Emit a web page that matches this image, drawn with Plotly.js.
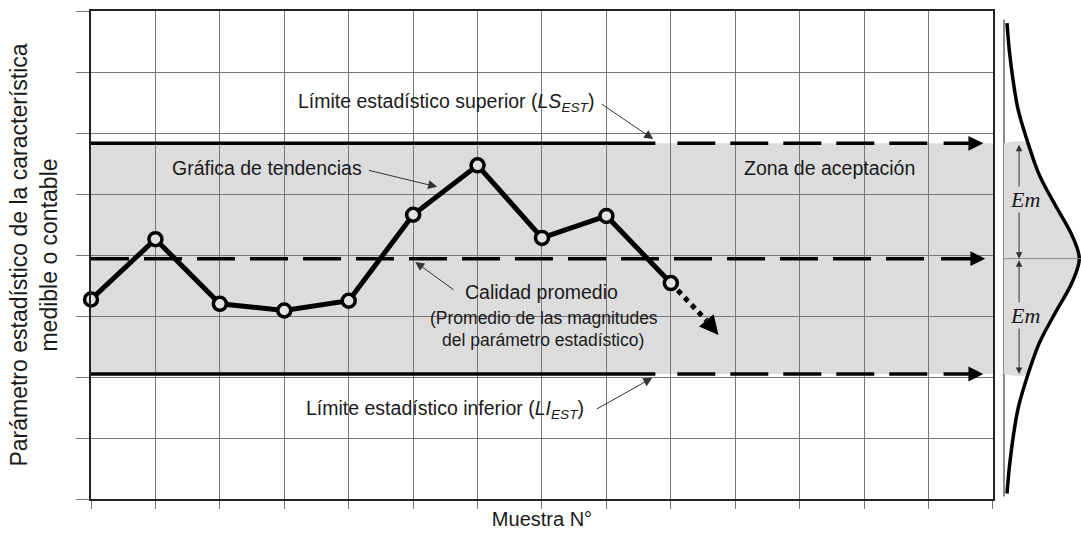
<!DOCTYPE html>
<html>
<head>
<meta charset="utf-8">
<script src="https://cdn.plot.ly/plotly-3.0.1.min.js"></script>
<style>html,body{margin:0;padding:0;background:#fff;}#chart{width:1081px;height:542px;}</style>
</head>
<body>
<div id="chart"></div>
<script>
// ---- data ----
const sampleIdx = [0, 1, 2, 3, 4, 5, 6, 7, 8, 9];
const sampleValues = [3.27, 4.26, 3.20, 3.09, 3.25, 4.66, 5.47, 4.28, 4.64, 3.54];
const projectionX = [9, 9.55];
const projectionY = [3.54, 2.93];
const projectionTip = [9.74, 2.69];

const upperLimit = 5.83;   // LS_EST
const meanLevel = 3.94;    // calidad promedio
const lowerLimit = 2.05;   // LI_EST
const solidEnd = 8.76;     // where LS / LI turn dashed
const dashStart = 9.10;
const dashEnd = 13.05;
const meanDashEnd = 13.0;
const arrowTailLimits = 13.21;
const arrowTailMean = 13.17;
const arrowTip = 13.85;
const arrowTipMean = 13.88;

const curveY = [7.80, 7.36, 6.87, 6.37, 5.83, 5.31, 4.82, 4.33, 3.94, 3.54, 3.05, 2.56, 2.05, 1.50, 1.00, 0.51, 0.09];
const curveDensity = [0.04, 0.07, 0.12, 0.19, 0.32, 0.47, 0.68, 0.90, 1.00, 0.90, 0.68, 0.47, 0.32, 0.19, 0.12, 0.07, 0.04];
const emArrowX = 0.2;
const emLabelX = 0.28;

const TXT = '#1a1a1a';
const GRID = '#777777';
const BAND = '#dcdcdc';

// band under curve (between limits)
const bandX = [0], bandY = [upperLimit];
curveY.forEach((y, i) => { if (y <= upperLimit && y >= lowerLimit) { bandX.push(curveDensity[i]); bandY.push(y); } });
bandX.push(0); bandY.push(lowerLimit);

const blackLine = (w, dash) => ({color: '#000', width: w, dash: dash || 'solid'});

const traces = [
  {x: [0, solidEnd], y: [upperLimit, upperLimit], mode: 'lines', line: blackLine(3.5), hoverinfo: 'skip'},
  {x: [dashStart, dashEnd], y: [upperLimit, upperLimit], mode: 'lines', line: blackLine(3.5, '38px,15px'), hoverinfo: 'skip'},
  {x: [0, solidEnd], y: [lowerLimit, lowerLimit], mode: 'lines', line: blackLine(3.5), hoverinfo: 'skip'},
  {x: [dashStart, dashEnd], y: [lowerLimit, lowerLimit], mode: 'lines', line: blackLine(3.5, '38px,15px'), hoverinfo: 'skip'},
  {x: [0, meanDashEnd], y: [meanLevel, meanLevel], mode: 'lines', line: blackLine(3.5, '38px,15px'), hoverinfo: 'skip'},
  {x: projectionX, y: projectionY, mode: 'lines', line: blackLine(5, 'dot'), hoverinfo: 'skip'},
  {x: sampleIdx, y: sampleValues, mode: 'lines+markers', cliponaxis: false,
   line: {color: '#000', width: 5},
   marker: {symbol: 'circle', size: 13, color: '#e2e2e2', line: {color: '#000', width: 3.5}}},
  {x: bandX, y: bandY, xaxis: 'x2', yaxis: 'y2', mode: 'lines', fill: 'toself', fillcolor: BAND,
   line: {width: 0, shape: 'spline'}, hoverinfo: 'skip'},
  {x: curveDensity, y: curveY, xaxis: 'x2', yaxis: 'y2', mode: 'lines', cliponaxis: false,
   line: {color: '#000', width: 3.5, shape: 'spline'}, hoverinfo: 'skip'}
];

const ann = [];
function label(text, x, y, size, extra) {
  ann.push(Object.assign({text: text, x: x, y: y, xref: 'x', yref: 'y', showarrow: false,
    font: {size: size, color: TXT, family: 'Liberation Sans, Arial, sans-serif'}}, extra || {}));
}
function pointer(ax, ay, x, y) {
  ann.push({text: '', x: x, y: y, ax: ax, ay: ay, xref: 'x', yref: 'y', axref: 'x', ayref: 'y',
    showarrow: true, arrowhead: 2, arrowsize: 1.8, arrowwidth: 1, arrowcolor: '#333', standoff: 0});
}
function bigHead(ax, ay, x, y, w, s) {
  ann.push({text: '', x: x, y: y, ax: ax, ay: ay, xref: 'x', yref: 'y', axref: 'x', ayref: 'y',
    showarrow: true, arrowhead: 2, arrowsize: s, arrowwidth: w, arrowcolor: '#000', standoff: 0});
}

label('Límite estadístico superior (<i>LS</i><sub><i>EST</i></sub>)', 5.515, 6.50, 19.5);
label('Gráfica de tendencias', 2.736, 5.425, 19.5);
label('Zona de aceptación', 11.459, 5.425, 19.5);
label('Calidad promedio', 6.997, 3.397, 19.5);
label('(Promedio de las magnitudes', 7.035, 2.97, 17.5);
label('del parámetro estadístico)', 7.012, 2.608, 17.5);
label('Límite estadístico inferior (<i>LI</i><sub><i>EST</i></sub>)', 5.5, 1.462, 19.5);

pointer(7.905, 6.489, 8.727, 5.90);
pointer(4.289, 5.394, 5.373, 5.117);
pointer(5.654, 3.411, 5.033, 3.886);
pointer(7.827, 1.462, 8.712, 1.986);

bigHead(arrowTailLimits, upperLimit, arrowTip, upperLimit, 3.5, 0.85);
bigHead(arrowTailMean, meanLevel, arrowTipMean, meanLevel, 3.5, 0.85);
bigHead(arrowTailLimits, lowerLimit, arrowTip, lowerLimit, 3.5, 0.85);
bigHead(projectionX[1], projectionY[1], projectionTip[0], projectionTip[1], 4, 0.95);

// Em arrows on the distribution side
[[upperLimit, meanLevel], [meanLevel, lowerLimit]].forEach(([a, b]) => {
  ann.push({text: '', x: emArrowX, y: b, ax: emArrowX, ay: a, xref: 'x2', yref: 'y2', axref: 'x2', ayref: 'y2',
    showarrow: true, arrowhead: 2, startarrowhead: 2, arrowside: 'end+start', arrowsize: 1.3, startarrowsize: 1.3,
    arrowwidth: 1, arrowcolor: '#333', standoff: 0, startstandoff: 0});
  ann.push({text: '<i>Em</i>', x: emLabelX, y: (a + b) / 2 + 0.02, xref: 'x2', yref: 'y2', showarrow: false,
    bgcolor: BAND, borderpad: 0,
    font: {size: 22, color: TXT, family: 'Liberation Serif, Times New Roman, serif'}});
});

const layout = {
  width: 1081, height: 542,
  margin: {l: 91, r: 0, t: 11, b: 43},
  paper_bgcolor: '#fff', plot_bgcolor: '#fff',
  showlegend: false,
  font: {family: 'Liberation Sans, Arial, sans-serif', color: TXT},
  xaxis: {domain: [0, 0.9111], range: [0, 14], tick0: 0, dtick: 1, showticklabels: false,
    ticks: 'outside', ticklen: 8, tickcolor: GRID, tickwidth: 1,
    showgrid: true, gridcolor: GRID, gridwidth: 1, zeroline: false,
    showline: true, linecolor: '#222', linewidth: 2, mirror: true, fixedrange: true,
    title: {text: 'Muestra N°', font: {size: 20, color: TXT}, standoff: 4}},
  yaxis: {range: [0, 8], tick0: 0, dtick: 1, showticklabels: false,
    ticks: 'outside', ticklen: 13, tickcolor: GRID, tickwidth: 1,
    showgrid: true, gridcolor: GRID, gridwidth: 1, zeroline: false,
    showline: true, linecolor: '#222', linewidth: 2, mirror: true, fixedrange: true,
    title: {text: 'Parámetro estadístico de la característica<br>medible o contable', font: {size: 23, color: TXT}, standoff: 12}},
  xaxis2: {domain: [0.91465, 1], range: [-0.0996, 1.0226], anchor: 'y2', visible: false, fixedrange: true},
  yaxis2: {domain: [0, 1], range: [0, 8], anchor: 'x2', visible: false, fixedrange: true},
  shapes: [
    {type: 'rect', xref: 'x', yref: 'y', x0: 0, x1: 14, y0: lowerLimit, y1: upperLimit,
     fillcolor: BAND, line: {width: 0}, layer: 'below'},
    {type: 'line', xref: 'x2', yref: 'y2', x0: 0, x1: 0, y0: 0.04, y1: 7.86,
     line: {color: '#8a8a8a', width: 2}, layer: 'below'},
    {type: 'line', xref: 'x2', yref: 'y2', x0: 0, x1: 1.0226, y0: meanLevel, y1: meanLevel,
     line: {color: '#8a8a8a', width: 1}, layer: 'above'}
  ],
  annotations: ann
};

Plotly.newPlot('chart', traces, layout, {displayModeBar: false, staticPlot: true});
</script>
</body>
</html>
